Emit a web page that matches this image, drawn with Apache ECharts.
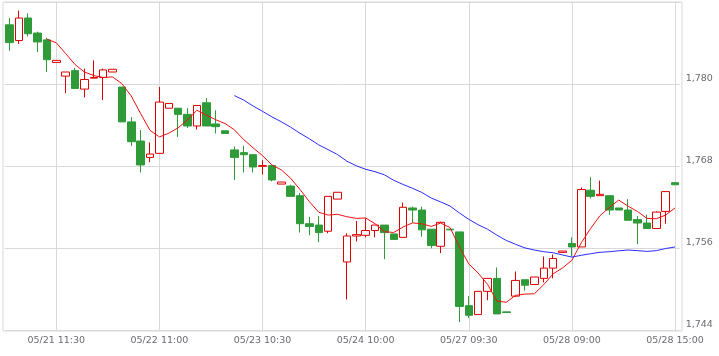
<!DOCTYPE html>
<html>
<head>
<meta charset="utf-8">
<script src="https://cdn.jsdelivr.net/npm/echarts@6/dist/echarts.min.js"></script>
<style>
html,body{margin:0;padding:0;background:#fff;}
#chart{width:719px;height:356px;}
</style>
</head>
<body>
<div id="chart"></div>
<script>
// ---- data ----
const days = ['05/21', '05/22', '05/23', '05/24', '05/27', '05/28'];
const times = ['09:00', '09:30', '10:00', '10:30', '11:00', '11:30', '12:30', '13:00', '13:30', '14:00', '14:30', '15:00'];
const categories = [];
days.forEach(d => times.forEach(t => categories.push(d + ' ' + t)));

const openValues = [
  1788.7, 1786.4, 1789.7, 1787.5, 1786.5, 1783.2, 1781.2, 1782.0, 1779.3, 1780.9, 1781.0, 1781.8,
  1779.6, 1774.5, 1771.7, 1769.3, 1769.9, 1776.5, 1776.5, 1775.6, 1773.9, 1777.3, 1774.2, 1773.2,
  1770.4, 1770.0, 1769.7, 1768.0, 1768.1, 1765.4, 1765.1, 1763.7, 1759.6, 1759.4, 1758.5, 1763.2,
  1754.0, 1757.8, 1757.9, 1758.6, 1759.4, 1758.1, 1757.6, 1761.9, 1761.6, 1758.8, 1756.3, 1758.8,
  1758.4, 1747.6, 1746.3, 1749.7, 1751.6, 1746.7, 1749.0, 1751.4, 1750.7, 1751.6, 1753.1, 1755.4,
  1756.7, 1756.2, 1764.5, 1763.7, 1763.7, 1761.9, 1761.6, 1760.2, 1759.7, 1758.9, 1761.4, 1765.6
];
const closeValues = [
  1786.1, 1789.7, 1787.4, 1786.2, 1783.6, 1783.5, 1781.8, 1779.4, 1780.7, 1781.0, 1782.1, 1782.2,
  1774.5, 1771.6, 1768.2, 1769.8, 1777.4, 1777.2, 1775.6, 1773.9, 1776.9, 1773.9, 1773.8, 1772.8,
  1769.3, 1769.7, 1767.9, 1768.1, 1766.0, 1765.7, 1763.6, 1759.6, 1759.2, 1758.3, 1763.6, 1764.2,
  1757.8, 1758.0, 1758.6, 1759.4, 1758.3, 1757.3, 1762.0, 1761.6, 1758.7, 1756.4, 1759.8, 1758.7,
  1747.5, 1746.2, 1749.7, 1751.6, 1746.4, 1746.6, 1751.3, 1750.6, 1751.8, 1753.1, 1754.5, 1755.6,
  1756.2, 1764.6, 1763.6, 1763.9, 1761.6, 1761.6, 1760.1, 1759.7, 1758.9, 1761.3, 1764.3, 1765.3
];
const lowValues = [
  1784.9, 1785.9, 1787.0, 1784.7, 1781.8, 1783.2, 1778.7, 1779.4, 1778.1, 1780.9, 1777.7, 1781.8,
  1774.5, 1771.0, 1767.1, 1768.6, 1769.8, 1776.5, 1772.3, 1773.6, 1773.4, 1773.9, 1772.8, 1772.8,
  1766.0, 1767.1, 1767.1, 1766.8, 1765.8, 1765.4, 1763.6, 1758.3, 1757.9, 1756.9, 1758.2, 1763.2,
  1748.5, 1757.0, 1757.6, 1757.6, 1754.4, 1757.3, 1757.6, 1759.7, 1757.7, 1756.0, 1755.3, 1758.7,
  1745.2, 1745.8, 1746.3, 1748.4, 1746.4, 1746.6, 1748.9, 1749.8, 1750.7, 1751.0, 1751.6, 1755.4,
  1754.8, 1756.2, 1763.3, 1763.7, 1760.9, 1761.6, 1760.1, 1756.6, 1758.9, 1758.9, 1759.6, 1765.3
];
const highValues = [
  1789.7, 1790.8, 1790.4, 1787.7, 1786.8, 1783.5, 1781.8, 1782.4, 1782.3, 1783.5, 1782.3, 1782.2,
  1779.6, 1775.2, 1773.3, 1771.5, 1779.6, 1777.2, 1776.5, 1776.5, 1776.9, 1778.0, 1776.2, 1773.2,
  1770.9, 1771.0, 1769.7, 1768.9, 1768.1, 1765.7, 1765.3, 1764.1, 1760.6, 1760.7, 1763.6, 1764.2,
  1758.2, 1760.0, 1760.4, 1759.4, 1759.4, 1758.1, 1762.7, 1762.1, 1762.1, 1758.8, 1759.9, 1758.8,
  1758.4, 1749.0, 1749.7, 1751.6, 1753.2, 1746.7, 1752.6, 1751.4, 1751.8, 1754.8, 1755.1, 1755.6,
  1757.6, 1764.9, 1766.4, 1765.9, 1763.7, 1761.9, 1763.2, 1760.7, 1760.9, 1761.4, 1764.3, 1765.6
];
const yTicks = [1744, 1756, 1768, 1780];
const maShortPeriod = 5;
const maLongPeriod = 25;

// ---- build ----
const candleData = categories.map((_, i) => [openValues[i], closeValues[i], lowValues[i], highValues[i]]);
function movingAverage(values, n) {
  return values.map((_, i) => {
    if (i < n - 1) return '-';
    let s = 0;
    for (let k = i - n + 1; k <= i; k++) s += values[k];
    return +(s / n).toFixed(3);
  });
}
const maShort = movingAverage(closeValues, maShortPeriod);
const maLong = movingAverage(closeValues, maLongPeriod);

const labelStep = 11;
const labelOffset = (categories.length - 1) % labelStep;
const showIdx = (idx) => idx % labelStep === labelOffset;

const chart = echarts.init(document.getElementById('chart'), null, { renderer: 'canvas' });
const font = 'DejaVu Sans';
chart.setOption({
  animation: false,
  backgroundColor: '#ffffff',
  grid: [
    { left: 4.7, right: 39.3, top: 2.3, height: 328, show: false },
    { left: 3, top: 2, width: 679, height: 329, show: true, borderColor: '#d9d9d9', borderWidth: 1, backgroundColor: 'transparent', z: 0 }
  ],
  xAxis: [
    {
      type: 'category', gridIndex: 0, data: categories, boundaryGap: true,
      axisLine: { show: false }, axisTick: { show: false },
      axisLabel: { interval: (idx) => showIdx(idx), color: '#6a6a72', fontFamily: font, fontSize: 9.5, margin: 5 },
      splitLine: { show: true, interval: (idx) => showIdx(idx), alignWithLabel: true, lineStyle: { color: '#d9d9d9', width: 1 } }
    },
    { type: 'value', gridIndex: 1, show: false, min: 0, max: 1 }
  ],
  yAxis: [
    {
      type: 'value', gridIndex: 0, position: 'right', min: 1744, max: 1792, interval: 12, scale: true,
      axisLine: { show: false }, axisTick: { show: false },
      axisLabel: {
        showMaxLabel: false, color: '#6a6a72', fontFamily: font, fontSize: 9.5, margin: 6,
        verticalAlign: 'bottom', padding: [0, 0, 1, 0],
        formatter: (v) => yTicks.indexOf(v) >= 0 ? v.toLocaleString('en-US') : ''
      },
      splitLine: { show: true, lineStyle: { color: '#d9d9d9', width: 1 } }
    },
    { type: 'value', gridIndex: 1, show: false, min: 0, max: 1 }
  ],
  series: [
    {
      type: 'candlestick', xAxisIndex: 0, yAxisIndex: 0, data: candleData, barWidth: 8, z: 3,
      itemStyle: {
        color: '#ffffff', borderColor: '#dd0000', color0: '#2e9a38', borderColor0: '#2e9a38',
        borderColorDoji: '#dd0000', borderWidth: 1
      }
    },
    {
      type: 'line', xAxisIndex: 0, yAxisIndex: 0, data: maShort, showSymbol: false, symbol: 'none', z: 4,
      lineStyle: { color: '#f01010', width: 1 }
    },
    {
      type: 'line', xAxisIndex: 0, yAxisIndex: 0, data: maLong, showSymbol: false, symbol: 'none', z: 4,
      lineStyle: { color: '#2b2bff', width: 1 }
    }
  ]
});
</script>
</body>
</html>
